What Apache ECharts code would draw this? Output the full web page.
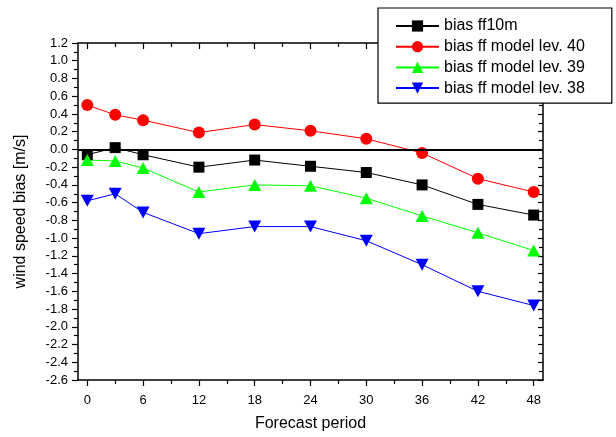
<!DOCTYPE html>
<html>
<head>
<meta charset="utf-8">
<script src="https://cdn.jsdelivr.net/npm/echarts@6/dist/echarts.min.js"></script>
<style>
  html, body { margin: 0; padding: 0; background: #fff; }
  #chart { width: 616px; height: 437px; }
</style>
</head>
<body>
<div id="chart"></div>
<script>
// Forecast lead time (hours)
const hours = [0, 3, 6, 12, 18, 24, 30, 36, 42, 48];

// Wind speed bias [m/s] per forecast period
const biasFf10m  = [-0.06, 0.02, -0.06, -0.20, -0.12, -0.19, -0.26, -0.40, -0.62, -0.74];
const biasLev40  = [0.50, 0.39, 0.33, 0.19, 0.28, 0.21, 0.12, -0.04, -0.33, -0.48];
const biasLev39  = [-0.12, -0.13, -0.21, -0.48, -0.40, -0.41, -0.55, -0.75, -0.94, -1.14];
const biasLev38  = [-0.58, -0.50, -0.71, -0.95, -0.87, -0.87, -1.03, -1.30, -1.60, -1.76];

const seriesNames = ['bias ff10m', 'bias ff model lev. 40', 'bias ff model lev. 39', 'bias ff model lev. 38'];

// Axis ticks
const xMajorTicks = [0, 6, 12, 18, 24, 30, 36, 42, 48];
const xMinorTicks = [3, 9, 15, 21, 27, 33, 39, 45];

const FONT = 'Liberation Sans, Arial, sans-serif';

function pairs(values) {
  return hours.map((h, i) => [h, values[i]]);
}

function xAxisDef(position, ticks, len, inside, withLine, withLabels) {
  return {
    type: 'value', position: position, min: -1, max: 49,
    axisLine: { show: withLine, onZero: false, lineStyle: { color: '#000', width: 1.5 } },
    axisTick: { show: true, inside: inside, length: len, customValues: ticks,
                lineStyle: { color: '#000', width: 1.2 } },
    axisLabel: withLabels ? {
      show: true, customValues: ticks, margin: 14,
      color: '#000', fontFamily: FONT, fontSize: 13
    } : { show: false },
    splitLine: { show: false }
  };
}

function yAxisDef(position, inside, majorLen, withLabels) {
  return {
    type: 'value', position: position, min: -2.6, max: 1.2, interval: 0.2,
    axisLine: { show: true, onZero: false, lineStyle: { color: '#000', width: 1.5 } },
    axisTick: { show: true, inside: inside, length: majorLen, lineStyle: { color: '#000', width: 1.2 } },
    minorTick: { show: true, splitNumber: 2, length: 4, lineStyle: { color: '#000', width: 1.2 } },
    axisLabel: withLabels ? {
      show: true, margin: 10, color: '#000', fontFamily: FONT, fontSize: 13,
      formatter: v => (Math.abs(v) < 1e-9 ? 0 : v).toFixed(1)
    } : { show: false },
    splitLine: { show: false }
  };
}

const bottomAxis = xAxisDef('bottom', xMajorTicks, 6, false, true, true);
bottomAxis.name = 'Forecast period';
bottomAxis.nameLocation = 'middle';
bottomAxis.nameGap = 36;
bottomAxis.nameTextStyle = { color: '#000', fontFamily: FONT, fontSize: 16 };

const leftAxis = yAxisDef('left', false, 6, true);
leftAxis.name = 'wind speed bias [m/s]';
leftAxis.nameLocation = 'middle';
leftAxis.nameGap = 49;
leftAxis.nameTextStyle = { color: '#000', fontFamily: FONT, fontSize: 16 };

function lineSeries(name, values, color, symbol, size, extra) {
  return Object.assign({
    name: name, type: 'line', data: pairs(values),
    xAxisIndex: 0, yAxisIndex: 0,
    symbol: symbol, symbolSize: size, showAllSymbol: true,
    lineStyle: { color: color, width: 1 },
    itemStyle: { color: color },
    emphasis: { disabled: true },
    animation: false
  }, extra || {});
}

const option = {
  backgroundColor: '#fff',
  animation: false,
  grid: { left: 78, right: 73, top: 43, bottom: 51, containLabel: false },
  xAxis: [
    bottomAxis,
    xAxisDef('bottom', xMinorTicks, 4, false, false, false),
    xAxisDef('top', xMajorTicks, 6, true, true, false),
    xAxisDef('top', xMinorTicks, 4, true, false, false)
  ],
  yAxis: [
    leftAxis,
    yAxisDef('right', true, 5, false)
  ],
  legend: {
    orient: 'vertical', left: 378, top: 8,
    padding: [10, 27, 7, 17],
    itemWidth: 43, itemHeight: 14, itemGap: 4.7,
    backgroundColor: '#fff', borderColor: '#000', borderWidth: 1.2,
    borderRadius: 0, z: 10,
    textStyle: { color: '#000', fontFamily: FONT, fontSize: 16 },
    data: seriesNames
  },
  series: [
    lineSeries(seriesNames[0], biasFf10m, '#000000', 'rect', 11, {
      markLine: {
        silent: true, symbol: 'none', animation: false,
        label: { show: false },
        lineStyle: { color: '#000', width: 2, type: 'solid' },
        data: [{ yAxis: 0 }]
      }
    }),
    lineSeries(seriesNames[1], biasLev40, '#ff0000', 'circle', 12),
    lineSeries(seriesNames[2], biasLev39, '#00ff00', 'triangle', [13, 12]),
    lineSeries(seriesNames[3], biasLev38, '#0000ff', 'path://M0,0 L10,0 L5,10 Z', [13, 12])
  ]
};

const chart = echarts.init(document.getElementById('chart'), null, { renderer: 'canvas' });
chart.setOption(option);
</script>
</body>
</html>
